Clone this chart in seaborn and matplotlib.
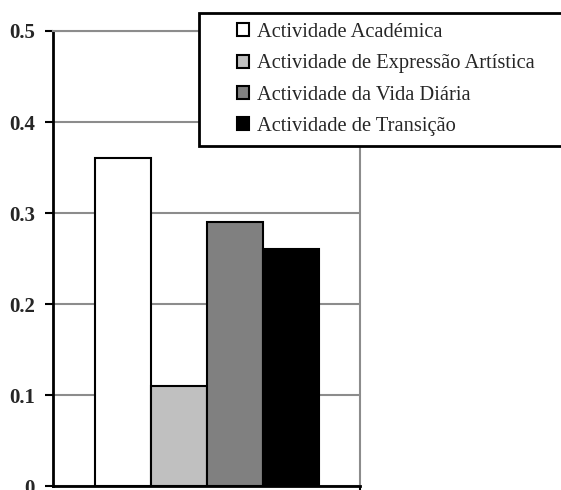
import matplotlib
matplotlib.use("Agg")
import matplotlib.pyplot as plt
import seaborn as sns
import pandas as pd
from matplotlib.patches import Rectangle

# Data
categories = [
    "Actividade Académica",
    "Actividade de Expressão Artística",
    "Actividade da Vida Diária",
    "Actividade de Transição",
]
values = [0.36, 0.11, 0.29, 0.26]
colors = ["#FFFFFF", "#C0C0C0", "#808080", "#000000"]
yticks = [0, 0.1, 0.2, 0.3, 0.4, 0.5]
ytick_labels = ["0", "0.1", "0.2", "0.3", "0.4", "0.5"]

sns.set_style("white")
plt.rcParams["font.family"] = ["Liberation Serif", "DejaVu Serif"]

W, H = 561, 490
fig = plt.figure(figsize=(W / 100, H / 100), dpi=100)
ax = fig.add_axes([53 / W, 1 - 486 / H, (360 - 53) / W, (486 - 31) / H])

df = pd.DataFrame({"cat": categories, "val": values})
sns.barplot(data=df, x="cat", y="val", hue="cat", hue_order=categories,
            order=categories, palette=colors, saturation=1, width=1.0,
            edgecolor="black", linewidth=1.5, legend=False, ax=ax)

ax.set_xlim(-1.25, 4.23)
ax.set_ylim(0, 0.5)
ax.set_xlabel("")
ax.set_ylabel("")

# Axis styling
ax.set_axisbelow(True)
ax.yaxis.grid(True, color="#8c8c8c", linewidth=1.5)
ax.xaxis.grid(False)
for side in ("left", "bottom"):
    ax.spines[side].set_color("black")
    ax.spines[side].set_linewidth(2)
for side in ("top", "right"):
    ax.spines[side].set_color("#8c8c8c")
    ax.spines[side].set_linewidth(1.5)

ax.set_yticks(yticks)
ax.set_yticklabels(ytick_labels, fontsize=15, fontweight="bold")
ax.tick_params(axis="y", direction="out", length=6, width=1.5, color="black",
               left=True, pad=7)
ax.set_xticks([4.23])
ax.set_xticklabels([""])
ax.tick_params(axis="x", direction="out", length=3, width=1.5, color="black",
               bottom=True)

# Legend box
box = Rectangle((199 / W, 1 - 146 / H), (575 - 199) / W, (146 - 13) / H,
                transform=fig.transFigure, facecolor="white",
                edgecolor="black", linewidth=2, zorder=5)
fig.add_artist(box)

handles = list(ax.patches)[:len(categories)]
leg = fig.legend(handles, categories, loc="upper left",
                 bbox_to_anchor=(237 / W, 1 - 23 / H), frameon=False,
                 fontsize=14.8, handlelength=0.6, handleheight=0.6,
                 handletextpad=0.35, labelspacing=0.6, borderpad=0,
                 borderaxespad=0)
leg.set_zorder(6)

fig.savefig("out.png", dpi=100)
